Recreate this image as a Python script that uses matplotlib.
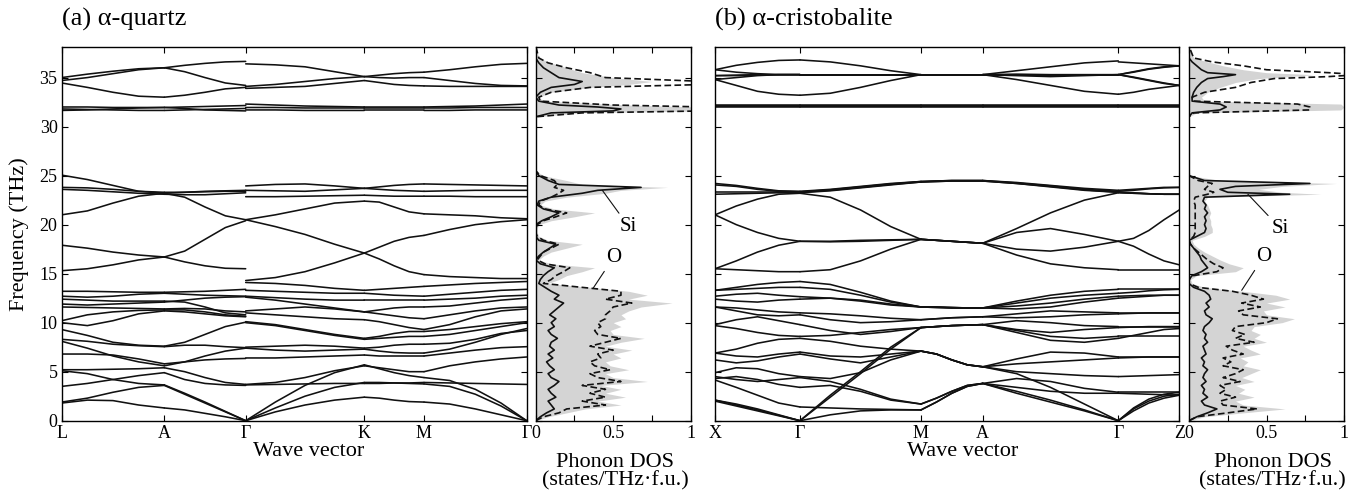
import matplotlib
matplotlib.use('Agg')
import matplotlib.pyplot as plt
import numpy as np

plt.rcParams['font.family'] = ['Liberation Serif', 'DejaVu Serif']
plt.rcParams['axes.linewidth'] = 1.0

# ---------------- Panel (a) alpha-quartz ----------------
kpos_a = [0.0, 102.6, 184.0, 302.6, 362.3, 465.0]
klab_a = ['L', 'A', 'Γ', 'K', 'M', 'Γ']

seg_a_LA = [
    [35.0, 35.35, 35.65, 35.9, 36.0], [34.7, 35.0, 35.4, 35.8, 36.0], [34.45, 34.0, 33.5, 33.1, 33.0],
    [32.0, 32.0, 31.95, 31.95, 31.95], [31.8, 31.75, 31.7, 31.65, 31.65], [31.65, 31.7, 31.8, 31.9, 31.95],
    [25.05, 24.6, 24.0, 23.4, 23.2], [23.8, 23.75, 23.6, 23.4, 23.3], [23.6, 23.5, 23.35, 23.2, 23.1],
    [21.0, 21.4, 22.2, 22.9, 23.2], [17.9, 17.6, 17.2, 16.9, 16.7], [15.3, 15.5, 15.9, 16.4, 16.7],
    [13.2, 13.2, 13.15, 13.1, 13.1], [12.7, 12.6, 12.7, 12.9, 13.0], [12.4, 12.3, 12.2, 12.2, 12.2],
    [11.9, 11.8, 11.9, 12.0, 12.1], [11.6, 11.55, 11.5, 11.45, 11.4], [10.2, 10.8, 11.1, 11.25, 11.3],
    [10.0, 9.7, 10.2, 10.9, 11.2], [9.3, 8.7, 8.0, 7.7, 7.6], [8.3, 8.1, 7.8, 7.65, 7.55],
    [8.1, 7.4, 6.6, 6.0, 5.6], [6.8, 6.8, 6.7, 6.3, 5.8], [5.2, 5.2, 5.25, 5.3, 5.4],
    [5.1, 4.8, 4.2, 3.8, 3.65], [3.5, 3.8, 4.2, 4.6, 4.9], [1.9, 2.3, 2.9, 3.4, 3.6],
    [1.8, 2.1, 2.05, 1.6, 1.3],
]
seg_a_AG = [
    [36.0, 36.25, 36.45, 36.6, 36.65], [36.0, 35.6, 35.0, 34.45, 34.2], [33.0, 33.2, 33.5, 33.85, 34.0],
    [31.95, 32.0, 32.05, 32.1, 32.15], [31.65, 31.7, 31.75, 31.8, 31.85], [31.95, 31.85, 31.7, 31.65, 31.6],
    [23.2, 23.3, 23.4, 23.45, 23.5], [23.3, 23.3, 23.35, 23.4, 23.4], [23.1, 23.05, 23.05, 23.15, 23.25],
    [23.2, 22.8, 21.8, 20.9, 20.5], [16.7, 17.3, 18.5, 19.7, 20.4], [16.7, 16.2, 15.8, 15.55, 15.5],
    [13.1, 13.15, 13.2, 13.3, 13.4], [13.0, 12.9, 12.8, 12.75, 12.7], [12.2, 12.1, 11.6, 11.0, 10.8],
    [12.1, 12.3, 12.5, 12.6, 12.65], [11.4, 11.45, 11.4, 11.2, 11.1], [11.3, 11.3, 11.1, 10.8, 10.65],
    [11.2, 11.1, 10.9, 10.7, 10.6], [7.6, 8.0, 8.8, 9.6, 10.05], [7.55, 7.7, 7.7, 7.55, 7.45],
    [5.6, 6.0, 6.6, 7.1, 7.4], [5.8, 6.0, 6.2, 6.3, 6.35], [5.4, 5.0, 4.4, 3.9, 3.7],
    [3.65, 2.8, 1.9, 0.95, 0.0], [4.9, 4.2, 3.8, 3.65, 3.6], [3.6, 2.7, 1.8, 0.9, 0.0],
    [1.3, 1.1, 0.75, 0.4, 0.0],
]
seg_a_GK = [
    [36.4, 36.3, 36.1, 35.6, 35.1], [34.1, 34.3, 34.6, 34.9, 35.1], [33.9, 34.0, 34.1, 34.4, 34.7],
    [32.3, 32.2, 32.1, 32.05, 32.0], [31.95, 31.95, 31.9, 31.9, 31.9], [31.7, 31.7, 31.65, 31.65, 31.65],
    [23.95, 24.1, 24.15, 23.95, 23.7], [23.5, 23.45, 23.4, 23.55, 23.7], [22.85, 22.85, 22.9, 22.95, 23.0],
    [20.5, 21.0, 21.6, 22.2, 22.4], [20.5, 19.8, 19.0, 18.0, 17.1], [14.3, 14.6, 15.2, 16.1, 17.1],
    [14.1, 14.0, 13.8, 13.5, 13.3], [13.3, 13.2, 13.1, 13.0, 13.0], [12.7, 12.55, 12.4, 12.3, 12.3],
    [12.6, 12.3, 11.9, 11.5, 11.1], [11.2, 11.4, 11.6, 11.4, 11.1], [11.0, 10.8, 10.6, 10.4, 10.3],
    [10.1, 9.8, 9.3, 8.8, 8.4], [10.0, 9.7, 9.2, 8.7, 8.3], [7.5, 7.6, 7.7, 7.6, 7.4],
    [7.4, 7.2, 7.1, 7.2, 7.3], [6.4, 6.4, 6.5, 6.6, 6.7], [3.7, 3.9, 4.4, 5.1, 5.6],
    [3.65, 3.7, 3.75, 3.8, 3.8], [0.0, 1.9, 3.6, 4.9, 5.7], [0.0, 1.3, 2.5, 3.4, 3.9],
    [0.0, 0.9, 1.6, 2.1, 2.4],
]
seg_a_KM = [
    [35.1, 35.25, 35.4, 35.5, 35.55], [35.1, 35.0, 34.95, 35.0, 35.0], [34.7, 34.5, 34.3, 34.2, 34.15],
    [32.0, 32.0, 32.0, 32.0, 32.0], [31.9, 31.9, 31.9, 31.9, 31.9], [31.65, 31.65, 31.65, 31.65, 31.65],
    [23.7, 23.85, 24.0, 24.1, 24.15], [23.7, 23.6, 23.5, 23.45, 23.4], [23.0, 22.95, 22.9, 22.9, 22.9],
    [22.4, 22.3, 21.8, 21.3, 21.1], [17.1, 16.5, 15.8, 15.2, 14.9], [17.1, 17.7, 18.3, 18.7, 18.9],
    [13.3, 13.4, 13.5, 13.6, 13.7], [13.0, 12.9, 12.8, 12.75, 12.7], [12.3, 12.3, 12.3, 12.3, 12.3],
    [11.1, 11.3, 11.5, 11.6, 11.6], [11.1, 10.9, 10.7, 10.5, 10.4], [10.3, 10.1, 9.8, 9.5, 9.3],
    [8.4, 8.6, 8.9, 9.1, 9.1], [8.3, 8.4, 8.5, 8.6, 8.6], [7.4, 7.5, 7.7, 7.8, 7.8],
    [7.3, 7.1, 6.95, 6.9, 6.9], [6.7, 6.6, 6.6, 6.6, 6.6], [5.6, 5.4, 5.2, 5.0, 5.0],
    [3.8, 3.8, 3.85, 3.85, 3.9], [5.7, 5.3, 4.9, 4.6, 4.4], [3.9, 3.9, 3.85, 3.8, 3.75],
    [2.4, 2.3, 2.1, 1.95, 1.9],
]
seg_a_MG = [
    [35.55, 35.8, 36.1, 36.35, 36.45], [35.0, 34.7, 34.4, 34.2, 34.15], [34.15, 34.1, 34.1, 34.1, 34.1],
    [32.0, 32.05, 32.1, 32.2, 32.3], [31.9, 31.9, 31.95, 31.95, 31.95], [31.65, 31.65, 31.7, 31.7, 31.7],
    [24.15, 24.1, 24.05, 24.0, 23.95], [23.4, 23.45, 23.5, 23.5, 23.5], [22.9, 22.9, 22.85, 22.85, 22.85],
    [21.1, 21.0, 20.9, 20.7, 20.6], [14.9, 14.7, 14.6, 14.5, 14.5], [18.9, 19.5, 20.0, 20.3, 20.5],
    [13.7, 13.85, 14.0, 14.1, 14.2], [12.7, 12.9, 13.1, 13.3, 13.4], [12.3, 12.4, 12.5, 12.7, 12.8],
    [11.6, 11.7, 12.0, 12.3, 12.5], [10.4, 10.8, 11.2, 11.5, 11.6], [9.3, 9.8, 10.6, 11.2, 11.4],
    [9.1, 9.3, 9.6, 9.9, 10.1], [8.6, 8.8, 9.2, 9.6, 10.0], [7.8, 7.9, 8.3, 8.9, 9.2],
    [6.9, 7.3, 8.0, 8.8, 9.4], [6.6, 6.9, 7.2, 7.45, 7.55], [5.0, 5.6, 6.0, 6.3, 6.5],
    [3.9, 3.85, 3.8, 3.75, 3.7], [4.4, 4.1, 3.2, 1.8, 0.0], [3.75, 3.5, 2.7, 1.5, 0.0],
    [1.9, 1.7, 1.2, 0.6, 0.0],
]
segs_a = [seg_a_LA, seg_a_AG, seg_a_GK, seg_a_KM, seg_a_MG]

# DOS (a)
dos_a_freq = [0.0, 0.4, 0.8, 1.2, 1.6, 2.0, 2.4, 2.8, 3.2, 3.6, 4.0, 4.4, 4.8, 5.2, 5.6, 6.0, 6.4, 6.8,
              7.2, 7.6, 8.0, 8.4, 8.8, 9.2, 9.6, 10.0, 10.4, 10.8, 11.2, 11.6, 12.0, 12.4, 12.8, 13.2,
              13.6, 14.0, 14.4, 14.8, 15.2, 15.6, 16.0, 16.4, 16.8, 17.2, 17.6, 18.0, 18.4, 18.8, 19.2,
              19.6, 20.0, 20.4, 20.8, 21.2, 21.6, 22.0, 22.4, 22.8, 23.2, 23.5, 23.8, 24.1, 24.5, 25.0,
              25.5, 31.0, 31.4, 31.6, 31.8, 32.0, 32.2, 32.6, 33.0, 33.5, 34.0, 34.3, 34.6, 35.0, 35.5,
              36.0, 36.5, 37.0, 38.2]
dos_a_total = [0.0, 0.08, 0.2, 0.32, 0.55, 0.4, 0.58, 0.45, 0.55, 0.42, 0.72, 0.5, 0.45, 0.6, 0.48, 0.45,
               0.55, 0.5, 0.62, 0.45, 0.55, 0.7, 0.5, 0.48, 0.55, 0.5, 0.58, 0.55, 0.6, 0.68, 0.88, 0.6,
               0.72, 0.6, 0.35, 0.08,
               0.15, 0.2, 0.3, 0.38, 0.1, 0.02, 0.05, 0.1, 0.2, 0.3, 0.08, 0.02, 0.01, 0.01, 0.02, 0.1,
               0.25, 0.38, 0.12, 0.03, 0.06, 0.2,
               0.45, 0.55, 0.85, 0.3, 0.2, 0.05, 0.0,
               0.0, 0.3, 1.1, 1.1, 1.05, 0.6, 0.05, 0.02, 0.1, 0.35, 0.6, 0.75, 0.5, 0.3, 0.2, 0.1, 0.02, 0.0]
dos_a_si = [0.0, 0.03, 0.07, 0.12, 0.1, 0.08, 0.13, 0.1, 0.08, 0.12, 0.15, 0.1, 0.08, 0.12, 0.09, 0.07,
            0.11, 0.08, 0.12, 0.09, 0.1, 0.14, 0.1, 0.08, 0.12, 0.1, 0.13, 0.09, 0.12, 0.15, 0.18, 0.12,
            0.15, 0.1, 0.06, 0.02,
            0.03, 0.05, 0.08, 0.12, 0.03, 0.0, 0.02, 0.05, 0.09, 0.13, 0.02, 0.0, 0.0, 0.0, 0.0, 0.04,
            0.1, 0.15, 0.05, 0.01, 0.02, 0.1,
            0.3, 0.4, 0.68, 0.15, 0.08, 0.02, 0.0,
            0.0, 0.1, 0.5, 0.55, 0.4, 0.15, 0.02, 0.0, 0.03, 0.1, 0.25, 0.3, 0.15, 0.1, 0.05, 0.02, 0.0, 0.0]
dos_a_o = [0.0, 0.05, 0.15, 0.2, 0.45, 0.3, 0.45, 0.35, 0.45, 0.3, 0.55, 0.4, 0.35, 0.48, 0.38, 0.35,
           0.42, 0.4, 0.5, 0.35, 0.45, 0.55, 0.4, 0.38, 0.42, 0.4, 0.45, 0.45, 0.48, 0.5, 0.62, 0.45,
           0.55, 0.55, 0.3, 0.05,
           0.1, 0.13, 0.18, 0.22, 0.06, 0.01, 0.03, 0.05, 0.1, 0.15, 0.05, 0.01, 0.0, 0.0, 0.01, 0.05,
           0.13, 0.2, 0.06, 0.02, 0.03, 0.1,
           0.15, 0.18, 0.12, 0.14, 0.12, 0.03, 0.0,
           0.0, 0.3, 1.1, 1.1, 1.1, 0.5, 0.03, 0.02, 0.1, 0.35, 1.1, 1.1, 0.45, 0.35, 0.2, 0.08, 0.02, 0.0]

# ---------------- Panel (b) alpha-cristobalite ----------------
kpos_b = [0.0, 85.0, 206.0, 267.7, 403.3, 464.3]
klab_b = ['X', 'Γ', 'M', 'A', 'Γ', 'Z']

seg_b_XG = [
    [35.8, 36.25, 36.55, 36.75, 36.8], [35.8, 35.55, 35.4, 35.3, 35.3], [35.2, 35.25, 35.3, 35.3, 35.3],
    [35.2, 35.2, 35.25, 35.3, 35.3], [34.8, 35.0, 35.2, 35.3, 35.3], [34.8, 34.2, 33.6, 33.3, 33.2],
    [32.2, 32.2, 32.2, 32.2, 32.2], [32.15, 32.15, 32.15, 32.15, 32.15], [32.1, 32.1, 32.1, 32.1, 32.1],
    [32.05, 32.05, 32.05, 32.05, 32.05],
    [24.2, 24.0, 23.7, 23.45, 23.4], [24.05, 23.9, 23.6, 23.4, 23.35], [23.3, 23.3, 23.3, 23.3, 23.3],
    [23.1, 23.15, 23.2, 23.25, 23.25], [21.0, 21.9, 22.6, 23.1, 23.2], [21.0, 20.0, 19.2, 18.6, 18.3],
    [15.5, 16.3, 17.2, 17.9, 18.3], [15.5, 15.4, 15.3, 15.2, 15.2],
    [13.3, 13.6, 13.9, 14.1, 14.2], [13.3, 13.4, 13.5, 13.6, 13.6], [12.7, 12.9, 13.0, 12.8, 12.65],
    [12.4, 12.2, 12.1, 12.3, 12.4], [11.6, 11.5, 11.3, 11.1, 11.0], [11.6, 11.2, 10.8, 10.7, 10.8],
    [9.8, 10.3, 10.6, 10.2, 9.8], [9.7, 9.4, 9.0, 8.7, 8.6], [6.9, 7.3, 7.9, 8.3, 8.4],
    [6.9, 6.6, 6.5, 6.8, 7.0], [6.2, 5.9, 6.1, 6.5, 6.8], [4.9, 5.4, 5.3, 4.8, 4.5],
    [4.5, 4.2, 4.0, 4.2, 4.4], [4.3, 4.5, 4.2, 3.7, 3.4], [4.15, 3.4, 2.6, 1.8, 1.4],
    [2.1, 1.7, 1.2, 0.6, 0.0], [2.1, 1.6, 1.1, 0.55, 0.0], [2.0, 1.5, 1.0, 0.5, 0.0],
]
seg_b_GM = [
    [36.8, 36.6, 36.2, 35.7, 35.3], [35.3, 35.3, 35.3, 35.3, 35.3], [35.3, 35.3, 35.3, 35.3, 35.3],
    [35.3, 35.3, 35.3, 35.3, 35.3], [35.3, 35.3, 35.3, 35.3, 35.3], [33.2, 33.4, 34.0, 34.7, 35.3],
    [32.2, 32.2, 32.2, 32.2, 32.2], [32.15, 32.15, 32.15, 32.15, 32.15], [32.1, 32.1, 32.1, 32.1, 32.1],
    [32.05, 32.05, 32.05, 32.05, 32.05],
    [23.4, 23.6, 23.9, 24.2, 24.4], [23.35, 23.55, 23.85, 24.15, 24.4], [23.3, 23.5, 23.8, 24.1, 24.35],
    [23.25, 23.45, 23.75, 24.05, 24.35], [23.2, 22.8, 21.5, 19.8, 18.5], [18.3, 18.3, 18.4, 18.45, 18.5],
    [18.3, 18.25, 18.3, 18.4, 18.5], [15.2, 15.4, 16.3, 17.5, 18.5],
    [14.2, 13.9, 13.1, 12.2, 11.6], [13.6, 13.4, 12.8, 12.1, 11.6], [12.65, 12.5, 12.2, 11.8, 11.6],
    [12.4, 12.5, 12.3, 11.9, 11.6], [11.0, 10.9, 10.7, 10.45, 10.3], [10.8, 10.3, 10.0, 10.1, 10.3],
    [9.8, 9.2, 8.8, 9.1, 9.5], [8.6, 8.7, 9.0, 9.3, 9.5], [8.4, 8.1, 7.6, 7.3, 7.1],
    [7.0, 6.6, 6.5, 6.8, 7.1], [6.8, 6.3, 5.9, 6.5, 7.1], [4.5, 4.3, 4.9, 6.2, 7.1],
    [4.4, 4.0, 3.2, 2.2, 1.7], [3.4, 3.6, 3.0, 2.1, 1.7], [1.4, 1.3, 1.2, 1.15, 1.1],
    [0.0, 2.6, 5.0, 7.5, 9.5], [0.0, 2.4, 4.8, 7.3, 9.5], [0.0, 0.6, 1.0, 1.1, 1.1],
]
seg_b_MA = [
    [35.3, 35.3, 35.3, 35.3, 35.3], [35.3, 35.3, 35.3, 35.3, 35.3], [35.3, 35.3, 35.3, 35.3, 35.3],
    [35.3, 35.3, 35.3, 35.3, 35.3], [35.3, 35.3, 35.3, 35.3, 35.3], [35.3, 35.3, 35.3, 35.3, 35.3],
    [32.2, 32.2, 32.2, 32.2, 32.2], [32.15, 32.15, 32.15, 32.15, 32.15], [32.1, 32.1, 32.1, 32.1, 32.1],
    [32.05, 32.05, 32.05, 32.05, 32.05],
    [24.4, 24.45, 24.5, 24.5, 24.5], [24.4, 24.45, 24.5, 24.5, 24.5], [24.35, 24.4, 24.45, 24.45, 24.45],
    [24.35, 24.4, 24.45, 24.45, 24.45], [18.5, 18.4, 18.3, 18.2, 18.1], [18.5, 18.4, 18.3, 18.2, 18.1],
    [18.5, 18.4, 18.3, 18.2, 18.1], [18.5, 18.4, 18.3, 18.2, 18.1],
    [11.6, 11.6, 11.55, 11.5, 11.5], [11.6, 11.6, 11.55, 11.5, 11.5], [11.6, 11.55, 11.5, 11.5, 11.5],
    [11.6, 11.55, 11.5, 11.5, 11.5], [10.3, 10.4, 10.5, 10.55, 10.6], [10.3, 10.4, 10.5, 10.55, 10.6],
    [9.5, 9.6, 9.7, 9.75, 9.8], [9.5, 9.6, 9.7, 9.75, 9.8], [7.1, 6.8, 6.2, 5.7, 5.5],
    [7.1, 6.8, 6.2, 5.7, 5.5], [7.1, 6.8, 6.2, 5.7, 5.5], [7.1, 6.8, 6.2, 5.7, 5.5],
    [1.7, 2.3, 3.0, 3.6, 3.8], [1.7, 2.3, 3.0, 3.6, 3.8], [1.1, 1.9, 2.8, 3.5, 3.8],
    [9.5, 9.6, 9.7, 9.75, 9.8], [9.5, 9.6, 9.7, 9.75, 9.8], [1.1, 1.9, 2.8, 3.5, 3.8],
]
seg_b_AG = [
    [35.3, 35.7, 36.1, 36.5, 36.7], [35.3, 35.3, 35.3, 35.3, 35.3], [35.3, 35.3, 35.3, 35.3, 35.3],
    [35.3, 35.2, 35.1, 35.2, 35.3], [35.3, 35.35, 35.3, 35.3, 35.3], [35.3, 34.8, 34.2, 33.6, 33.3],
    [32.2, 32.2, 32.2, 32.2, 32.2], [32.15, 32.15, 32.15, 32.15, 32.15], [32.1, 32.1, 32.1, 32.1, 32.1],
    [32.05, 32.05, 32.05, 32.05, 32.05],
    [24.5, 24.3, 24.0, 23.7, 23.5], [24.5, 24.25, 23.95, 23.6, 23.4], [24.45, 24.2, 23.9, 23.55, 23.3],
    [24.45, 24.2, 23.85, 23.5, 23.3], [18.1, 19.6, 21.2, 22.5, 23.25], [18.1, 19.2, 19.6, 19.0, 18.3],
    [18.1, 17.5, 17.3, 17.7, 18.3], [18.1, 16.9, 16.0, 15.6, 15.4],
    [11.5, 12.2, 12.8, 13.2, 13.4], [11.5, 12.0, 12.5, 12.8, 13.0], [11.5, 11.7, 12.0, 12.4, 12.7],
    [11.5, 11.4, 11.6, 12.1, 12.5], [10.6, 10.9, 11.2, 11.1, 11.0], [10.6, 10.5, 10.6, 10.8, 10.9],
    [9.8, 10.2, 10.0, 9.7, 9.6], [9.8, 9.3, 9.0, 9.3, 9.5], [9.8, 9.2, 8.6, 8.4, 8.6],
    [9.8, 9.0, 8.2, 8.0, 8.4], [5.5, 6.3, 7.0, 6.9, 6.5], [5.5, 5.8, 6.0, 6.2, 6.4],
    [5.5, 5.0, 4.8, 4.6, 4.5], [5.5, 4.8, 3.4, 1.7, 0.0], [3.8, 4.3, 4.0, 3.3, 2.9],
    [3.8, 3.4, 3.0, 2.8, 2.8], [3.8, 3.0, 2.1, 1.1, 0.0], [3.8, 2.8, 1.9, 1.0, 0.0],
]
seg_b_GZ = [
    [36.6, 36.5, 36.4, 36.3, 36.2], [35.3, 35.6, 35.9, 36.1, 36.2], [35.3, 35.0, 34.7, 34.4, 34.2],
    [35.3, 35.05, 34.75, 34.45, 34.2], [35.3, 35.55, 35.85, 36.05, 36.2], [33.3, 33.5, 33.8, 34.0, 34.2],
    [32.2, 32.2, 32.2, 32.2, 32.2], [32.15, 32.15, 32.15, 32.15, 32.15], [32.1, 32.1, 32.1, 32.1, 32.1],
    [32.05, 32.05, 32.05, 32.05, 32.05],
    [23.5, 23.6, 23.7, 23.8, 23.8], [23.4, 23.5, 23.65, 23.75, 23.8], [23.3, 23.2, 23.15, 23.1, 23.1],
    [23.3, 23.25, 23.15, 23.1, 23.1], [23.25, 23.2, 23.15, 23.1, 23.1], [18.3, 18.6, 19.4, 20.5, 21.5],
    [18.3, 17.8, 17.0, 16.3, 15.9], [15.4, 15.4, 15.4, 15.4, 15.4],
    [13.4, 13.4, 13.4, 13.4, 13.4], [13.0, 13.1, 13.25, 13.35, 13.4], [12.7, 12.75, 12.8, 12.8, 12.8],
    [12.5, 12.6, 12.7, 12.8, 12.8], [11.0, 11.0, 11.0, 11.0, 11.0], [10.9, 10.95, 11.0, 11.0, 11.0],
    [9.6, 9.6, 9.6, 9.6, 9.6], [9.5, 9.55, 9.6, 9.6, 9.6], [8.6, 8.6, 8.6, 8.6, 8.6],
    [8.4, 8.7, 9.0, 9.3, 9.4], [6.5, 6.5, 6.5, 6.5, 6.5], [6.4, 6.45, 6.5, 6.5, 6.5],
    [4.5, 4.55, 4.6, 4.65, 4.7], [0.0, 1.2, 2.0, 2.5, 2.7], [2.9, 2.9, 2.9, 2.9, 2.9],
    [2.8, 2.75, 2.7, 2.65, 2.6], [0.0, 1.3, 2.2, 2.7, 2.9], [0.0, 1.0, 1.8, 2.3, 2.6],
]
segs_b = [seg_b_XG, seg_b_GM, seg_b_MA, seg_b_AG, seg_b_GZ]

# DOS (b)
dos_b_freq = [0.0, 0.4, 0.8, 1.2, 1.6, 2.0, 2.4, 2.8, 3.2, 3.6, 4.0, 4.4, 4.8, 5.2, 5.6, 6.0, 6.4, 6.8,
              7.2, 7.6, 8.0, 8.4, 8.8, 9.2, 9.6, 10.0, 10.4, 10.8, 11.2, 11.6, 12.0, 12.4, 12.8, 13.2,
              13.6, 14.0, 14.4, 14.8, 15.2, 15.6, 16.0, 16.4, 16.8, 17.2, 17.6, 18.0, 18.4, 18.8, 19.2,
              19.6, 20.0, 20.4, 20.8, 21.2, 21.6, 22.0, 22.4, 22.8, 23.1, 23.3, 23.6, 23.9, 24.2, 24.5,
              25.0, 25.5, 31.0, 31.4, 31.7, 32.0, 32.3, 32.6, 33.0, 33.5, 34.0, 34.5, 34.9, 35.1, 35.3,
              35.5, 35.8, 36.2, 36.6, 37.0, 38.2]
dos_b_total = [0.0, 0.1, 0.35, 0.62, 0.35, 0.3, 0.42, 0.32, 0.36, 0.3, 0.42, 0.34, 0.4, 0.46, 0.35, 0.38,
               0.33, 0.46, 0.4, 0.35, 0.5, 0.42, 0.46, 0.4, 0.42, 0.6, 0.68, 0.5, 0.48, 0.62, 0.5, 0.65,
               0.56, 0.35, 0.1, 0.02,
               0.01, 0.05, 0.3, 0.35, 0.26, 0.2, 0.15, 0.1, 0.06, 0.03, 0.02, 0.1, 0.15, 0.15, 0.14, 0.14,
               0.13, 0.14, 0.13, 0.12, 0.1, 0.12,
               0.85, 0.6, 0.45, 0.6, 0.95, 0.2, 0.01, 0.0,
               0.0, 0.05, 0.98, 1.0, 0.98, 0.1, 0.08, 0.12, 0.2, 0.3, 0.45, 0.65, 0.8, 0.5, 0.35, 0.22,
               0.12, 0.03, 0.0]
dos_b_si = [0.0, 0.05, 0.12, 0.18, 0.1, 0.08, 0.12, 0.09, 0.1, 0.08, 0.11, 0.09, 0.1, 0.12, 0.09, 0.1,
            0.08, 0.11, 0.1, 0.09, 0.12, 0.1, 0.11, 0.09, 0.1, 0.13, 0.15, 0.11, 0.1, 0.13, 0.11, 0.14,
            0.13, 0.1, 0.03, 0.0,
            0.0, 0.02, 0.08, 0.12, 0.1, 0.08, 0.07, 0.05, 0.03, 0.01, 0.0, 0.05, 0.1, 0.11, 0.1, 0.11,
            0.1, 0.12, 0.1, 0.11, 0.09, 0.1,
            0.65, 0.25, 0.2, 0.3, 0.78, 0.1, 0.0, 0.0,
            0.0, 0.02, 0.2, 0.24, 0.2, 0.02, 0.02, 0.03, 0.05, 0.08, 0.12, 0.22, 0.3, 0.12, 0.08, 0.05,
            0.02, 0.0, 0.0]
dos_b_o = [0.0, 0.05, 0.25, 0.44, 0.22, 0.2, 0.3, 0.2, 0.24, 0.2, 0.33, 0.22, 0.3, 0.35, 0.22, 0.27,
           0.22, 0.35, 0.28, 0.24, 0.42, 0.3, 0.36, 0.28, 0.3, 0.5, 0.57, 0.35, 0.32, 0.46, 0.34, 0.48,
           0.4, 0.28, 0.06, 0.0,
           0.0, 0.03, 0.18, 0.22, 0.16, 0.12, 0.09, 0.06, 0.03, 0.01, 0.0, 0.03, 0.04, 0.04, 0.04, 0.04,
           0.04, 0.04, 0.04, 0.04, 0.03, 0.04,
           0.12, 0.16, 0.1, 0.12, 0.15, 0.06, 0.0, 0.0,
           0.0, 0.03, 0.78, 0.78, 0.7, 0.03, 0.02, 0.1, 0.3, 0.4, 0.55, 0.9, 1.1, 0.9, 0.5, 0.35,
           0.15, 0.03, 0.0]

freq_ticks = [0, 5, 10, 15, 20, 25, 30, 35]
dos_ticks = [0, 0.25, 0.5, 0.75, 1.0]
dos_ticklabels = ['0', '', '0.5', '', '1']
FMAX = 38.15

W, H = 1365, 498
fig = plt.figure(figsize=(W / 100, H / 100), dpi=100)


def px_axes(x0, x1, y0=46.7, y1=420.7):
    return fig.add_axes([x0 / W, 1 - y1 / H, (x1 - x0) / W, (y1 - y0) / H])


def style(ax):
    ax.tick_params(direction='in', top=True, right=True, length=4.5, width=0.8,
                   labelsize=13, pad=3)
    ax.set_ylim(0, FMAX)
    ax.set_yticks(freq_ticks)


def draw_bands(ax, kpos, segs, labels):
    for i, seg in enumerate(segs):
        for band in seg:
            x = np.linspace(kpos[i], kpos[i + 1], len(band))
            ax.plot(x, band, color='#111111', lw=1.15, solid_joinstyle='round',
                    solid_capstyle='round')
    ax.set_xlim(kpos[0], kpos[-1])
    ax.set_xticks(kpos)
    ax.set_xticklabels(labels)


def draw_dos(ax, freq, tot, si, o):
    ax.fill_betweenx(freq, 0, tot, color='#d4d4d4', lw=0)
    ax.plot(si, freq, color='#111111', lw=1.2)
    ax.plot(o, freq, color='#111111', lw=1.2, ls=(0, (4, 2)))
    ax.set_xlim(0, 1)
    ax.set_xticks(dos_ticks)
    ax.set_xticklabels(dos_ticklabels)
    ax.set_yticklabels([])


# panel a
ax_a = px_axes(61.7, 526.7)
style(ax_a)
draw_bands(ax_a, kpos_a, segs_a, klab_a)
ax_da = px_axes(535.7, 690.7)
style(ax_da)
draw_dos(ax_da, dos_a_freq, dos_a_total, dos_a_si, dos_a_o)

# panel b
ax_b = px_axes(715.0, 1179.3)
style(ax_b)
draw_bands(ax_b, kpos_b, segs_b, klab_b)
ax_b.set_yticklabels([])
ax_db = px_axes(1189.0, 1344.0)
style(ax_db)
draw_dos(ax_db, dos_b_freq, dos_b_total, dos_b_si, dos_b_o)

# annotations
arrow = dict(arrowstyle='-', lw=0.8, color='#111111', shrinkA=1, shrinkB=0)
ax_da.annotate('Si', xy=(0.43, 23.5), xytext=(0.6, 19.8), fontsize=15, ha='center', va='center',
               arrowprops=arrow)
ax_da.annotate('O', xy=(0.37, 13.5), xytext=(0.5, 16.6), fontsize=15, ha='center', va='center',
               arrowprops=arrow)
ax_db.annotate('Si', xy=(0.38, 23.1), xytext=(0.59, 19.6), fontsize=15, ha='center', va='center',
               arrowprops=arrow)
ax_db.annotate('O', xy=(0.34, 13.3), xytext=(0.48, 16.7), fontsize=15, ha='center', va='center',
               arrowprops=arrow)

# titles and labels
fig.text(61.7 / W, 1 - 19 / H, '(a) α-quartz', fontsize=19, ha='left', va='center')
fig.text(715.0 / W, 1 - 19 / H, '(b) α-cristobalite', fontsize=19, ha='left', va='center')
fig.text(19 / W, 1 - 233.7 / H, 'Frequency (THz)', fontsize=16, rotation=90, ha='center', va='center')
fig.text(309 / W, 1 - 451 / H, 'Wave vector', fontsize=16, ha='center', va='center')
fig.text(963 / W, 1 - 451 / H, 'Wave vector', fontsize=16, ha='center', va='center')
for xc in [615.5, 1272.5]:
    fig.text(xc / W, 1 - 462 / H, 'Phonon DOS', fontsize=16, ha='center', va='center')
    fig.text(xc / W, 1 - 481 / H, '(states/THz·f.u.)', fontsize=16, ha='center', va='center')

fig.savefig('out.png', dpi=100)
